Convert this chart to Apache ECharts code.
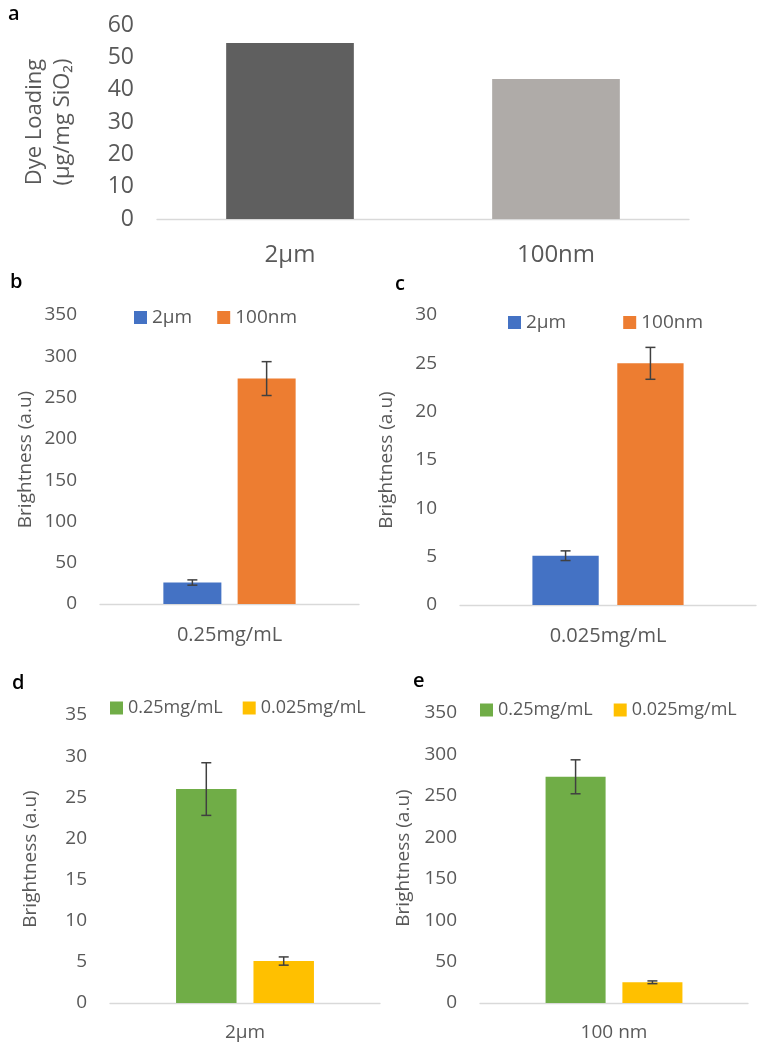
<!DOCTYPE html>
<html>
<head>
<meta charset="utf-8">
<style>
  html, body { margin: 0; padding: 0; background: #fff; }
  #main { width: 766px; height: 1050px; }
</style>
<script src="https://cdn.jsdelivr.net/npm/echarts@6/dist/echarts.min.js"></script>
</head>
<body>
<div id="main"></div>
<script>
// panel a: dye loading
const loadCats = ['2µm', '100nm']
const loadVals = [54.4, 43.3]
const loadColors = ['#5f5f5f', '#afaba8']

// brightness means / errors, by particle size
const sizes = ['2µm', '100nm']
const conc = ['0.25mg/mL', '0.025mg/mL']
const bright025 = [26, 273]     // 0.25mg/mL  -> [2µm, 100nm]
const err025 = [3.2, 20.5]
const bright0025 = [5.1, 25]    // 0.025mg/mL -> [2µm, 100nm]
const err0025 = [0.5, 1.65]

const FONT = "'Open Sans', 'Noto Sans', 'DejaVu Sans', sans-serif"
const TXT = '#595959'
const BW = 0.224   // bar width / category width
const GAP = 0.28   // bar gap / bar width

const chart = echarts.init(document.getElementById('main'))

// error bar custom series, pos = -1 left bar, 1 right bar
function errSeries(axis, means, errs) {
  return {
    type: 'custom',
    xAxisIndex: axis,
    yAxisIndex: axis,
    z: 10,
    silent: true,
    data: means.map((m, i) => [0, m, errs[i], i === 0 ? -1 : 1]),
    renderItem: function (params, api) {
      const m = api.value(1)
      const e = api.value(2)
      const catW = api.size([1, 0])[0]
      const dx = api.value(3) * catW * BW * (1 + GAP) / 2
      const hi = api.coord([0, m + e])
      const lo = api.coord([0, m - e])
      const x = hi[0] + dx
      const cap = 5
      const style = { stroke: '#404040', lineWidth: 1.5 }
      return {
        type: 'group',
        children: [
          { type: 'line', shape: { x1: x, y1: hi[1], x2: x, y2: lo[1] }, style },
          { type: 'line', shape: { x1: x - cap, y1: hi[1], x2: x + cap, y2: hi[1] }, style },
          { type: 'line', shape: { x1: x - cap, y1: lo[1], x2: x + cap, y2: lo[1] }, style }
        ]
      }
    }
  }
}

function xAx(grid, data, size, margin) {
  return {
    type: 'category',
    gridIndex: grid,
    data: data,
    axisLine: { lineStyle: { color: '#d9d9d9', width: 1.3 } },
    axisTick: { show: false },
    axisLabel: { color: TXT, fontSize: size, fontFamily: FONT, margin: margin }
  }
}

function yAx(grid, max, interval, name, size, gap, nameSize) {
  return {
    type: 'value',
    gridIndex: grid,
    min: 0,
    max: max,
    interval: interval,
    splitLine: { show: false },
    axisLine: { show: false },
    axisTick: { show: false },
    axisLabel: { color: TXT, fontSize: size, fontFamily: FONT, margin: 23 },
    name: name,
    nameLocation: 'middle',
    nameGap: gap,
    nameTextStyle: { color: TXT, fontSize: nameSize, fontFamily: FONT, lineHeight: 28 }
  }
}

function letter(t, left, top) {
  return { text: t, left: left, top: top, padding: 0,
    textStyle: { fontSize: 20, fontWeight: 600, color: '#000', fontFamily: FONT } }
}

function legend(names, left, top, gap, size) {
  return {
    data: names, left: left, top: top, itemGap: gap, padding: 0,
    itemWidth: 13, itemHeight: 13, icon: 'rect', selectedMode: false,
    textStyle: { color: TXT, fontSize: size, fontFamily: FONT }
  }
}

const colSize = ['#4472c4', '#ed7d31']
const colConc = ['#70ad47', '#ffc000']

function bar(axis, name, val, color) {
  return {
    type: 'bar', name: name, xAxisIndex: axis, yAxisIndex: axis,
    data: [val], barWidth: (BW * 100) + '%', barGap: (GAP * 100) + '%',
    itemStyle: { color: color }
  }
}

const option = {
  animation: false,
  backgroundColor: '#fff',
  title: [
    letter('a', 8, 4),
    letter('b', 10, 272),
    letter('c', 395, 274),
    letter('d', 12, 673),
    letter('e', 413, 671)
  ],
  legend: [
    legend(sizes, 134, 308, 25, 19),
    legend(sizes, 508, 313, 57, 19),
    legend(conc, 110, 699, 20, 18),
    legend(conc, 480, 701, 21, 18)
  ],
  grid: [
    { left: 157, top: 25, width: 532, height: 194 },
    { left: 100, top: 315, width: 259, height: 289 },
    { left: 460, top: 315, width: 296, height: 290 },
    { left: 110, top: 715, width: 270, height: 288 },
    { left: 480, top: 713, width: 268, height: 290 }
  ],
  xAxis: [
    xAx(0, loadCats, 24, 24),
    xAx(1, [conc[0]], 20, 21),
    xAx(2, [conc[1]], 20, 21),
    xAx(3, [sizes[0]], 19, 20),
    xAx(4, ['100 nm'], 19, 20)
  ],
  yAxis: [
    yAx(0, 60, 10, 'Dye Loading\n(µg/mg SiO₂)', 23, 80, 22),
    yAx(1, 350, 50, 'Brightness (a.u)', 19, 60, 19),
    yAx(2, 30, 5, 'Brightness (a.u)', 19, 59, 19),
    yAx(3, 35, 5, 'Brightness (a.u)', 19, 65, 19),
    yAx(4, 350, 50, 'Brightness (a.u)', 19, 62, 19)
  ],
  series: [
    {
      type: 'bar', xAxisIndex: 0, yAxisIndex: 0, barWidth: '48%',
      data: loadVals.map((v, i) => ({ value: v, itemStyle: { color: loadColors[i] } }))
    },
    // b: 0.25mg/mL
    bar(1, sizes[0], bright025[0], colSize[0]),
    bar(1, sizes[1], bright025[1], colSize[1]),
    errSeries(1, bright025, err025),
    // c: 0.025mg/mL
    bar(2, sizes[0], bright0025[0], colSize[0]),
    bar(2, sizes[1], bright0025[1], colSize[1]),
    errSeries(2, bright0025, err0025),
    // d: 2µm
    bar(3, conc[0], bright025[0], colConc[0]),
    bar(3, conc[1], bright0025[0], colConc[1]),
    errSeries(3, [bright025[0], bright0025[0]], [err025[0], err0025[0]]),
    // e: 100 nm
    bar(4, conc[0], bright025[1], colConc[0]),
    bar(4, conc[1], bright0025[1], colConc[1]),
    errSeries(4, [bright025[1], bright0025[1]], [err025[1], err0025[1]])
  ]
}

chart.setOption(option)
</script>
</body>
</html>
